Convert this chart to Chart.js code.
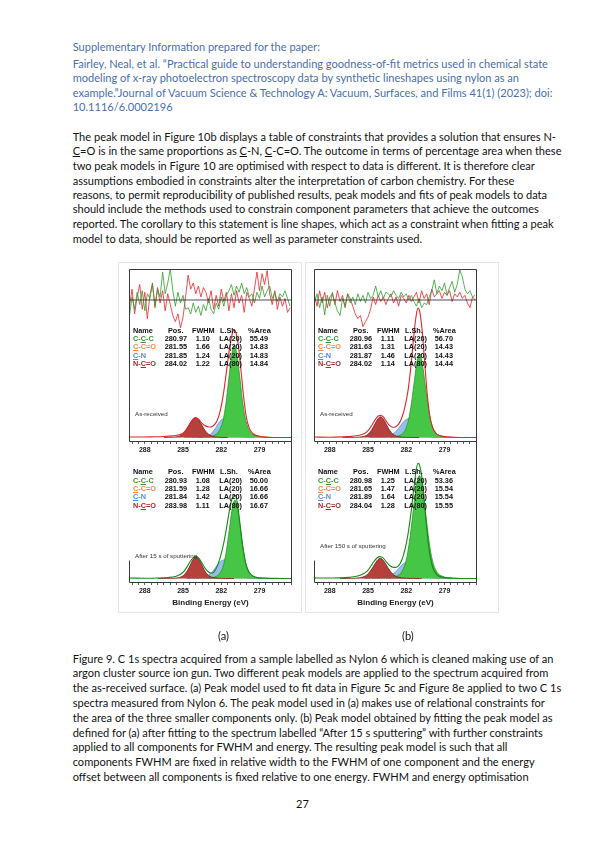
<!DOCTYPE html>
<html>
<head>
<meta charset="utf-8">
<script src="https://cdn.jsdelivr.net/npm/chart.js@4.4.1/dist/chart.umd.min.js"></script>
<style>
body { margin: 0; background: #fff; }
#page { position: relative; width: 606px; height: 860px; overflow: hidden; background: #fff; font-family: Lato, "Open Sans", sans-serif; }
.ln { position: absolute; left: 72.7px; white-space: nowrap; font-size: 11.05px; line-height: 14px; color: #111; }
.hd { color: #4a6fae; }
.box { position: absolute; border: 1px solid #e6e6e6; }
canvas { position: absolute; }
.tb { position: absolute; white-space: nowrap; font-family: "Liberation Sans", Arial, sans-serif; font-weight: bold; font-size: 7.3px; line-height: 8px; color: #111; }
.lab { position: absolute; white-space: nowrap; font-family: "Liberation Sans", Arial, sans-serif; font-size: 6.2px; line-height: 8px; color: #333; }
</style>
</head>
<body>
<div id="page">
  <div class="ln hd" style="top:39.7px">Supplementary Information prepared for the paper:</div>
  <div class="ln hd" style="top:57px">Fairley, Neal, et al. “Practical guide to understanding goodness-of-fit metrics used in chemical state</div>
  <div class="ln hd" style="top:71.3px">modeling of x-ray photoelectron spectroscopy data by synthetic lineshapes using nylon as an</div>
  <div class="ln hd" style="top:85.7px">example.”Journal of Vacuum Science &amp; Technology A: Vacuum, Surfaces, and Films 41(1) (2023); doi:</div>
  <div class="ln hd" style="top:100.3px">10.1116/6.0002196</div>

  <div class="ln" style="top:129.7px">The peak model in Figure 10b displays a table of constraints that provides a solution that ensures N-</div>
  <div class="ln" style="top:144px"><u>C</u>=O is in the same proportions as <u>C</u>-N, <u>C</u>-C=O. The outcome in terms of percentage area when these</div>
  <div class="ln" style="top:158.7px">two peak models in Figure 10 are optimised with respect to data is different. It is therefore clear</div>
  <div class="ln" style="top:173.7px">assumptions embodied in constraints alter the interpretation of carbon chemistry. For these</div>
  <div class="ln" style="top:188px">reasons, to permit reproducibility of published results, peak models and fits of peak models to data</div>
  <div class="ln" style="top:202.3px">should include the methods used to constrain component parameters that achieve the outcomes</div>
  <div class="ln" style="top:217px">reported. The corollary to this statement is line shapes, which act as a constraint when fitting a peak</div>
  <div class="ln" style="top:232px">model to data, should be reported as well as parameter constraints used.</div>

  <div class="box" style="left:118px;top:262px;width:182px;height:349px"></div>
  <div class="box" style="left:305px;top:262px;width:192px;height:349px"></div>

  <canvas id="aTop" width="169" height="191" style="left:126px;top:266px"></canvas>
  <canvas id="aBot" width="169" height="156" style="left:126px;top:452px"></canvas>
  <canvas id="bTop" width="169" height="191" style="left:311px;top:266px"></canvas>
  <canvas id="bBot" width="169" height="156" style="left:311px;top:452px"></canvas>

  <div class="ln" style="left:218px;top:628.7px">(a)</div>
  <div class="ln" style="left:402px;top:628.7px">(b)</div>

  <div class="ln" style="top:652px">Figure 9. C 1s spectra acquired from a sample labelled as Nylon 6 which is cleaned making use of an</div>
  <div class="ln" style="top:666.3px">argon cluster source ion gun. Two different peak models are applied to the spectrum acquired from</div>
  <div class="ln" style="top:681.3px">the as-received surface. (a) Peak model used to fit data in Figure 5c and Figure 8e applied to two C 1s</div>
  <div class="ln" style="top:696px">spectra measured from Nylon 6. The peak model used in (a) makes use of relational constraints for</div>
  <div class="ln" style="top:710.7px">the area of the three smaller components only. (b) Peak model obtained by fitting the peak model as</div>
  <div class="ln" style="top:725.7px">defined for (a) after fitting to the spectrum labelled “After 15 s sputtering” with further constraints</div>
  <div class="ln" style="top:740.3px">applied to all components for FWHM and energy. The resulting peak model is such that all</div>
  <div class="ln" style="top:755px">components FWHM are fixed in relative width to the FWHM of one component and the energy</div>
  <div class="ln" style="top:769.7px">offset between all components is fixed relative to one energy. FWHM and energy optimisation</div>
  <div class="ln" style="left:296px;top:797.3px">27</div>
</div>

<script>
// Eje de energía (eV), invertido como en XPS
const energyMin = 276.45;
const energyMax = 289.24;
const tickValues = [289, 288.5, 288, 287.5, 287, 286.5, 286, 285.5, 285, 284.5, 284, 283.5, 283, 282.5, 282, 281.5, 281, 280.5, 280, 279.5, 279, 278.5, 278, 277.5, 277, 276.5];
const majorTicks = [288, 285, 282, 279];

// Tabla de componentes
const compNames = ["C-<u>C</u>-C", "<u>C</u>-C=O", "<u>C</u>-N", "N-<u>C</u>=O"];
const compColors = ["#2d9b2d", "#f08a4c", "#5a8bd6", "#a12d2d"];
const lineShapes = ["LA(20)", "LA(20)", "LA(20)", "LA(80)"];

const aTopPos = ["280.97", "281.55", "281.85", "284.02"];
const aTopFwhm = ["1.10", "1.66", "1.24", "1.22"];
const aTopArea = ["55.49", "14.83", "14.83", "14.84"];
const aBotPos = ["280.93", "281.59", "281.84", "283.98"];
const aBotFwhm = ["1.08", "1.28", "1.42", "1.11"];
const aBotArea = ["50.00", "16.66", "16.66", "16.67"];
const bTopPos = ["280.96", "281.63", "281.87", "284.02"];
const bTopFwhm = ["1.11", "1.31", "1.46", "1.14"];
const bTopArea = ["56.70", "14.43", "14.43", "14.44"];
const bBotPos = ["280.98", "281.65", "281.89", "284.04"];
const bBotFwhm = ["1.25", "1.47", "1.64", "1.28"];
const bBotArea = ["53.36", "15.54", "15.54", "15.55"];

// Residuos (energía / valor)
const residEnergy = [289.2, 289.0, 288.8, 288.6, 288.4, 288.2, 288.0, 287.8, 287.6, 287.4, 287.2, 287.0, 286.8, 286.6, 286.4, 286.2, 286.0, 285.8, 285.6, 285.4, 285.2, 285.0, 284.8, 284.6, 284.4, 284.2, 284.0, 283.8, 283.6, 283.4, 283.2, 283.0, 282.8, 282.6, 282.4, 282.2, 282.0, 281.8, 281.6, 281.4, 281.2, 281.0, 280.8, 280.6, 280.4, 280.2, 280.0, 279.8, 279.6, 279.4, 279.2, 279.0, 278.8, 278.6, 278.4, 278.2, 278.0, 277.8, 277.6, 277.4, 277.2, 277.0, 276.8, 276.6];
const aResidRed = [-0.2, 0.35, -0.45, 0.1, 0.5, -0.3, 0.25, -0.6, 0.15, 0.55, -0.25, 0.4, -0.1, 0.3, -0.35, 0.2, -0.15, -0.5, -0.7, -0.45, -0.9, -0.55, 0.1, 0.8, 0.35, 0.55, 0.2, 0.45, 0.1, 0.4, 0.25, -0.1, 0.3, -0.3, 0.15, -0.2, 0.35, -0.05, 0.25, -0.35, 0.2, -0.25, 0.3, -0.1, 0.15, -0.4, 0.25, 0.05, -0.2, 0.35, 0.9, 0.3, 0.85, 0.5, 0.95, 0.2, -0.15, 0.3, -0.3, 0.1, -0.2, 0.05, -0.4, -0.25];
const aResidGreen = [-0.5, 0.1, -0.3, 0.25, -0.15, 0.3, -0.35, 0.2, 0.05, 0.5, -0.2, 0.35, 0.1, 0.9, 0.2, 0.55, 1.0, 0.3, -0.2, 0.25, -0.1, 0.15, -0.3, -0.25, -0.45, -0.1, -0.4, -0.2, -0.5, -0.15, -0.35, 0.05, -0.3, -0.45, -0.1, -0.3, 0.1, -0.2, 0.15, 0.3, 0.5, 0.15, 0.45, 0.25, 0.55, 0.2, 0.4, 0.1, 0.2, -0.1, 0.25, 0.05, 0.45, 0.1, 0.3, 0.45, 0.05, 0.25, -0.05, 0.2, 0.1, 0.3, 0.05, -0.2];
const bResidRed = [0.15, -0.2, 0.3, -0.1, 0.25, -0.25, 0.1, 0.2, -0.15, 0.3, -0.05, 0.15, -0.25, 0.2, 0.05, -0.2, -0.45, -0.6, -0.5, -0.86, -0.7, -0.55, -0.3, 0.1, -0.15, 0.15, -0.05, 0.1, -0.15, 0.05, 0.2, -0.1, 0.1, -0.2, 0.15, 0.05, -0.1, 0.15, -0.05, 0.1, 0.25, -0.1, 0.3, 0.05, 0.2, -0.15, 0.35, 0.1, 0.2, 0.3, 0.05, 0.25, 0.15, 0.3, -0.05, 0.2, 0.1, 0.25, 0.05, 0.15, -0.1, -0.25, 0.1, 0.0];
const bResidGreen = [-0.1, 0.2, -0.25, 0.1, -0.48, 0.15, -0.2, 0.25, -0.1, -0.35, -0.5, 0.05, -0.2, 0.2, -0.1, 0.1, -0.15, 0.2, -0.05, 0.15, -0.1, 0.25, 0.05, 0.15, 0.45, 0.1, 0.3, 0.05, 0.25, 0.2, 0.1, 0.3, 0.15, 0.05, 0.25, 0.1, 0.2, 0.0, 0.15, -0.05, -0.2, 0.05, -0.25, -0.1, -0.15, 0.1, 0.3, 0.65, 0.2, 0.45, 0.3, 0.55, 0.15, 0.4, 0.6, 0.25, 0.5, 0.97, 0.75, 0.35, 0.2, 0.3, 0.1, 0.15];

// Panel (a) arriba: As-received  [energía, intensidad]
const aTopNCO = [[286.5, 2], [285.8, 2.2], [285.32, 2.8], [285.02, 4.1], [284.77, 6.1], [284.52, 9.1], [284.27, 12.0], [284.02, 13.4], [283.77, 12.0], [283.52, 9.1], [283.27, 6.1], [283.02, 4.1], [282.72, 2.8], [282.22, 2.2], [281.5, 2]];
const aTopCN = [[284.3, 2], [283.65, 2.2], [283.15, 2.8], [282.85, 3.9], [282.6, 5.9], [282.35, 8.7], [282.1, 11.5], [281.85, 12.8], [281.6, 11.5], [281.35, 8.7], [281.1, 5.9], [280.85, 3.9], [280.55, 2.8], [280.05, 2.2], [279.4, 2]];
const aTopCCO = [[284.9, 2], [283.95, 2.15], [283.3, 2.6], [282.88, 3.4], [282.55, 4.9], [282.21, 7.0], [281.88, 9.1], [281.55, 10.1], [281.22, 9.1], [280.89, 7.0], [280.55, 4.9], [280.22, 3.4], [279.8, 2.6], [279.15, 2.15], [278.3, 2]];
const aTopCCC = [[283.8, 2], [283.27, 2.3], [282.62, 3.1], [282.17, 5.8], [281.87, 11.7], [281.64, 21.4], [281.42, 35.4], [281.19, 49.3], [280.97, 55.8], [280.75, 49.3], [280.52, 35.4], [280.3, 21.4], [280.07, 11.7], [279.77, 5.8], [279.32, 3.1], [278.67, 2.3], [278.0, 2]];
const aTopEnv = [[289.24, 2.3], [288.5, 2.3], [287.5, 2.4], [286.5, 2.6], [285.8, 3.0], [285.3, 3.6], [285.0, 4.6], [284.75, 6.6], [284.5, 9.6], [284.25, 12.4], [284.02, 13.6], [283.8, 12.8], [283.55, 10.6], [283.3, 9.0], [283.05, 8.3], [282.85, 8.1], [282.6, 9.0], [282.35, 11.5], [282.1, 17.0], [281.85, 26.5], [281.6, 40.0], [281.35, 54.0], [281.15, 62.0], [281.0, 64.5], [280.85, 63.0], [280.65, 55.0], [280.45, 41.0], [280.25, 26.0], [280.05, 14.5], [279.8, 7.5], [279.5, 4.2], [279.0, 2.8], [278.3, 2.2], [277.5, 2.0], [276.45, 2.0]];

// Panel (a) abajo: After 15 s
const aBotNCO = [[287.0, 2], [286.28, 2.06], [285.63, 2.25], [285.18, 2.9], [284.89, 4.3], [284.66, 6.6], [284.43, 9.9], [284.21, 13.2], [283.98, 14.7], [283.75, 13.2], [283.53, 9.9], [283.3, 6.6], [283.07, 4.3], [282.78, 2.9], [282.33, 2.25], [281.68, 2.06], [281.0, 2]];
const aBotCN = [[284.74, 2.05], [283.94, 2.2], [283.37, 2.8], [283.0, 3.9], [282.71, 5.9], [282.42, 8.7], [282.13, 11.5], [281.84, 12.8], [281.55, 11.5], [281.26, 8.7], [280.97, 5.9], [280.68, 3.9], [280.31, 2.8], [279.74, 2.2], [278.94, 2.05]];
const aBotCCO = [[284.19, 2.05], [283.49, 2.2], [282.97, 2.85], [282.64, 4.1], [282.38, 6.3], [282.11, 9.4], [281.85, 12.5], [281.59, 13.9], [281.33, 12.5], [281.07, 9.4], [280.8, 6.3], [280.54, 4.1], [280.21, 2.85], [279.69, 2.2], [278.99, 2.05]];
const aBotCCC = [[283.18, 2.2], [282.53, 2.9], [282.1, 5.2], [281.81, 10.2], [281.59, 18.5], [281.37, 30.3], [281.15, 42.2], [280.93, 47.7], [280.71, 42.2], [280.49, 30.3], [280.27, 18.5], [280.05, 10.2], [279.76, 5.2], [279.33, 2.9], [278.68, 2.2], [278.0, 2]];
const aBotEnv = [[289.24, 2.3], [288.0, 2.2], [287.0, 2.3], [286.2, 2.6], [285.6, 3.2], [285.2, 4.5], [284.9, 6.5], [284.65, 9.3], [284.4, 12.4], [284.15, 14.5], [283.98, 15.0], [283.75, 13.8], [283.5, 10.8], [283.25, 7.8], [283.0, 5.8], [282.8, 5.1], [282.6, 5.6], [282.4, 7.8], [282.2, 11.5], [282.0, 16.5], [281.8, 23.0], [281.6, 31.0], [281.4, 40.0], [281.2, 47.5], [281.0, 50.8], [280.85, 50.0], [280.7, 44.0], [280.5, 32.0], [280.3, 20.0], [280.1, 11.5], [279.85, 6.0], [279.5, 3.4], [279.0, 2.4], [278.0, 2.1], [276.45, 2.0]];

// Panel (b) arriba: As-received
const bTopNCO = [[287.0, 2], [286.37, 2.06], [285.72, 2.24], [285.25, 2.85], [284.95, 4.18], [284.72, 6.36], [284.49, 9.5], [284.25, 12.65], [284.02, 14.1], [283.79, 12.65], [283.55, 9.5], [283.32, 6.36], [283.09, 4.18], [282.79, 2.85], [282.32, 2.24], [281.67, 2.06], [281.0, 2]];
const bTopCN = [[284.87, 2.05], [284.02, 2.2], [283.44, 2.8], [283.07, 3.9], [282.77, 5.9], [282.47, 8.7], [282.17, 11.5], [281.87, 12.8], [281.57, 11.5], [281.27, 8.7], [280.97, 5.9], [280.67, 3.9], [280.3, 2.8], [279.72, 2.2], [278.87, 2.05]];
const bTopCCO = [[284.33, 2.06], [283.58, 2.25], [283.04, 2.85], [282.7, 4.2], [282.43, 6.3], [282.17, 9.4], [281.9, 12.6], [281.63, 14.0], [281.36, 12.6], [281.09, 9.4], [280.83, 6.3], [280.56, 4.2], [280.22, 2.85], [279.68, 2.25], [278.93, 2.06]];
const bTopCCC = [[283.26, 2.25], [282.61, 3.0], [282.16, 5.4], [281.87, 10.8], [281.64, 19.6], [281.41, 32.3], [281.18, 44.9], [280.96, 50.8], [280.74, 44.9], [280.51, 32.3], [280.28, 19.6], [280.05, 10.8], [279.76, 5.4], [279.31, 3.0], [278.66, 2.25], [278.0, 2]];
const bTopEnv = [[289.24, 2.3], [288.0, 2.2], [287.0, 2.4], [286.3, 2.7], [285.7, 3.3], [285.25, 4.5], [284.95, 6.5], [284.7, 9.2], [284.45, 12.3], [284.2, 14.5], [284.0, 15.0], [283.8, 14.0], [283.55, 11.3], [283.3, 8.9], [283.05, 8.0], [282.85, 8.2], [282.6, 9.8], [282.35, 13.5], [282.1, 20.0], [281.85, 30.0], [281.6, 46.0], [281.4, 62.0], [281.2, 74.0], [281.08, 77.3], [280.95, 75.5], [280.75, 64.0], [280.55, 45.0], [280.35, 27.0], [280.15, 14.5], [279.9, 7.2], [279.6, 4.0], [279.1, 2.7], [278.3, 2.2], [277.0, 2.0], [276.45, 2.0]];

// Panel (b) abajo: After 150 s
const bBotNCO = [[287.2, 2], [286.64, 2.06], [285.94, 2.25], [285.42, 2.85], [285.09, 4.1], [284.83, 6.25], [284.56, 9.3], [284.3, 12.4], [284.04, 13.8], [283.78, 12.4], [283.52, 9.3], [283.25, 6.25], [282.99, 4.1], [282.66, 2.85], [282.14, 2.25], [281.44, 2.06], [280.8, 2]];
const bBotCN = [[285.29, 2.05], [284.29, 2.2], [283.66, 2.7], [283.23, 3.8], [282.89, 5.5], [282.56, 8.1], [282.23, 10.6], [281.89, 11.8], [281.55, 10.6], [281.22, 8.1], [280.89, 5.5], [280.55, 3.8], [280.12, 2.7], [279.49, 2.2], [278.49, 2.05]];
const bBotCCO = [[284.65, 2.05], [283.8, 2.2], [283.23, 2.8], [282.85, 3.95], [282.55, 5.9], [282.25, 8.8], [281.95, 11.6], [281.65, 12.9], [281.35, 11.6], [281.05, 8.8], [280.75, 5.9], [280.45, 3.95], [280.07, 2.8], [279.5, 2.2], [278.65, 2.05]];
const bBotCCC = [[283.58, 2.3], [282.83, 3.2], [282.33, 6.2], [282.0, 12.8], [281.75, 23.6], [281.49, 39.2], [281.24, 54.8], [280.98, 62.0], [280.72, 54.8], [280.47, 39.2], [280.21, 23.6], [279.96, 12.8], [279.63, 6.2], [279.13, 3.2], [278.38, 2.3], [277.5, 2]];
const bBotEnv = [[289.24, 2.4], [288.3, 2.3], [287.3, 2.4], [286.5, 2.7], [285.9, 3.3], [285.4, 4.6], [285.05, 6.5], [284.8, 9.0], [284.55, 11.8], [284.3, 14.0], [284.05, 14.8], [283.8, 13.9], [283.55, 11.6], [283.3, 9.6], [283.05, 8.6], [282.85, 8.5], [282.6, 9.5], [282.35, 12.8], [282.1, 19.0], [281.85, 28.5], [281.6, 42.0], [281.4, 55.0], [281.2, 66.0], [281.08, 69.2], [280.95, 68.0], [280.75, 59.5], [280.55, 44.0], [280.35, 28.0], [280.15, 16.0], [279.9, 8.0], [279.6, 4.2], [279.1, 2.7], [278.3, 2.2], [277.0, 2.0], [276.45, 2.0]];

const page = document.getElementById("page");

//Marco del panel
const framePlugin = {
    id: "frame",
    afterDatasetsDraw(chart, args, opts) {
        const { ctx, chartArea: a } = chart;
        const L = Math.round(a.left) + 0.5, R = Math.round(a.right) - 0.5;
        const T = Math.round(a.top) + 0.5, B = Math.round(a.bottom) + 0.5;
        ctx.save();
        ctx.strokeStyle = "#3a3a3a";
        ctx.lineWidth = 1;
        ctx.beginPath();
        if (opts.top) {
            ctx.moveTo(L, B); ctx.lineTo(L, T); ctx.lineTo(R, T); ctx.lineTo(R, chart.height);
            ctx.moveTo(L, B); ctx.lineTo(R, B);
        } else {
            ctx.moveTo(R, 0); ctx.lineTo(R, B);
            ctx.moveTo(L, B - 22); ctx.lineTo(L, B); ctx.lineTo(R, B);
        }
        ctx.stroke();
        ctx.restore();
    }
};

function toXY(points) {
    return points.map(p => ({ x: p[0], y: p[1] }));
}

function peak(points, line, fillColor, order) {
    return {
        data: toXY(points),
        borderColor: line,
        backgroundColor: fillColor,
        borderWidth: 0.8,
        fill: { value: 2 },
        pointRadius: 0,
        cubicInterpolationMode: "monotone",
        order: order,
        yAxisID: "y"
    };
}

function envelope(points, color) {
    return {
        data: toXY(points),
        borderColor: color,
        borderWidth: 1.1,
        fill: false,
        pointRadius: 0,
        cubicInterpolationMode: "monotone",
        order: 1,
        yAxisID: "y"
    };
}

function residual(values, color) {
    return {
        data: residEnergy.map((e, i) => ({ x: e, y: values[i] })),
        borderColor: color,
        borderWidth: 0.8,
        fill: false,
        pointRadius: 0,
        tension: 0,
        order: 0,
        yAxisID: "yr"
    };
}

//Crear un panel
function makePanel(id, comps, env, envColor, resid, isTop, yMax) {
    const datasets = [
        peak(comps.cco, "#f0883c", "#f9c596", 5),
        peak(comps.cn, "#5b8fd4", "rgba(140,188,238,0.9)", 4),
        peak(comps.ccc, "#2a962a", "#46c646", 3),
        peak(comps.nco, "#7a1a1a", "#b6403c", 2),
        envelope(env, envColor)
    ];
    const scales = {
        x: {
            type: "linear",
            reverse: true,
            min: energyMin,
            max: energyMax,
            afterBuildTicks: s => { s.ticks = tickValues.map(v => ({ value: v })); },
            afterFit: s => { s.height = isTop ? 16 : 26; },
            ticks: {
                autoSkip: false,
                maxRotation: 0,
                minRotation: 0,
                padding: 2,
                color: "#222",
                font: { family: "Liberation Sans", size: 7, weight: "bold" },
                callback: v => majorTicks.includes(v) ? String(v) : ""
            },
            grid: { drawOnChartArea: false, drawTicks: true, tickLength: 3, color: "#333", lineWidth: 0.8 },
            border: { display: false },
            title: {
                display: !isTop,
                text: "Binding Energy (eV)",
                color: "#222",
                font: { family: "Liberation Sans", size: 8, weight: "bold" },
                padding: { top: 0, bottom: 0 }
            }
        },
        y: { display: false, min: 0, max: yMax }
    };
    if (isTop) {
        datasets.push(residual(resid.green, "#2e9e2e"));
        datasets.push(residual(resid.red, "#e8262b"));
        datasets.push({
            data: [{ x: energyMax, y: 0 }, { x: energyMin, y: 0 }],
            borderColor: "#222", borderWidth: 0.8, pointRadius: 0, fill: false, order: -1, yAxisID: "yr"
        });
        scales.yr = { display: false, min: -4.55, max: 1 };
    }
    return new Chart(document.getElementById(id), {
        type: "line",
        data: { datasets: datasets },
        options: {
            responsive: false,
            animation: false,
            events: [],
            layout: { padding: { left: 3, right: 3, top: 3, bottom: 0 } },
            plugins: { legend: { display: false }, tooltip: { enabled: false }, frame: { top: isTop } },
            scales: scales
        },
        plugins: [framePlugin]
    });
}

//Tabla de parámetros
function addTable(left, top, pos, fwhm, area) {
    const head = ["Name", "Pos.", "FWHM", "L.Sh.", "%Area"];
    const headX = [4, 39, 63, 91, 119];
    const cellX = [4, 35.7, 66.7, 90.3, 120.7];
    head.forEach((h, i) => addText("tb", left + headX[i], top, h, "#111"));
    for (let r = 0; r < 4; r++) {
        const y = top + 8.3 * (r + 1);
        addText("tb", left + cellX[0], y, compNames[r], compColors[r]);
        addText("tb", left + cellX[1], y, pos[r], "#111");
        addText("tb", left + cellX[2], y, fwhm[r], "#111");
        addText("tb", left + cellX[3], y, lineShapes[r], "#111");
        addText("tb", left + cellX[4], y, area[r], "#111");
    }
}

function addText(cls, x, yCenter, html, color) {
    const d = document.createElement("div");
    d.className = cls;
    d.style.left = x + "px";
    d.style.top = (yCenter - 4) + "px";
    d.style.color = color;
    d.innerHTML = html;
    page.appendChild(d);
}

makePanel("aTop", { nco: aTopNCO, cn: aTopCN, cco: aTopCCO, ccc: aTopCCC }, aTopEnv, "#e3262b", { red: aResidRed, green: aResidGreen }, true, 100);
makePanel("aBot", { nco: aBotNCO, cn: aBotCN, cco: aBotCCO, ccc: aBotCCC }, aBotEnv, "#178a17", null, false, 74);
makePanel("bTop", { nco: bTopNCO, cn: bTopCN, cco: bTopCCO, ccc: bTopCCC }, bTopEnv, "#e3262b", { red: bResidRed, green: bResidGreen }, true, 100);
makePanel("bBot", { nco: bBotNCO, cn: bBotCN, cco: bBotCCO, ccc: bBotCCC }, bBotEnv, "#178a17", null, false, 74);

addTable(129, 330.7, aTopPos, aTopFwhm, aTopArea);
addTable(129, 472.3, aBotPos, aBotFwhm, aBotArea);
addTable(314, 330.7, bTopPos, bTopFwhm, bTopArea);
addTable(314, 472.3, bBotPos, bBotFwhm, bBotArea);

addText("lab", 135, 414.3, "As-received", "#333");
addText("lab", 135, 556, "After 15 s of sputtering", "#333");
addText("lab", 320, 414.3, "As-received", "#333");
addText("lab", 320, 546, "After 150 s of sputtering", "#333");
</script>
</body>
</html>
